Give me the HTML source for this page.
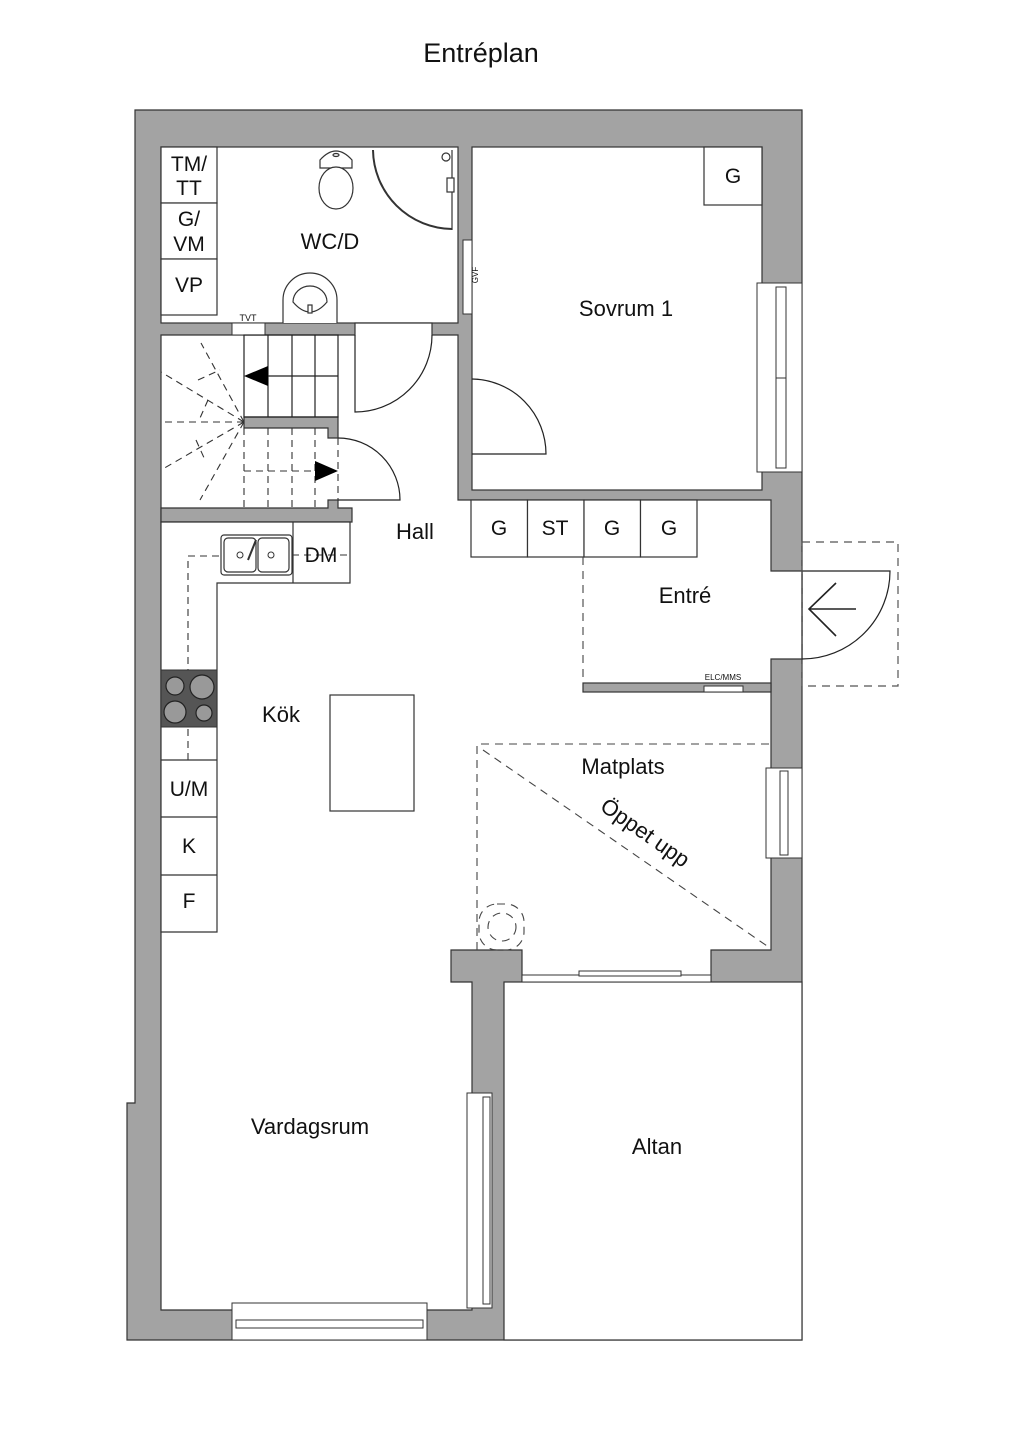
<!DOCTYPE html>
<html><head><meta charset="utf-8"><style>
html,body{margin:0;padding:0;background:#fff;}
svg{display:block;}
text{font-family:"Liberation Sans",sans-serif;fill:#111;}
</style></head><body>
<svg width="1024" height="1448" viewBox="0 0 1024 1448" xmlns="http://www.w3.org/2000/svg">
<text x="481" y="62" font-size="27" text-anchor="middle">Entréplan</text>

<!-- outer grey mass -->
<polygon points="135,110 802,110 802,1340 127,1340 127,1103 135,1103" fill="#a3a3a3" stroke="#333" stroke-width="1.2"/>

<g fill="#fff" stroke="#333" stroke-width="1.2">
<!-- WC -->
<rect x="161" y="147" width="297" height="176"/>
<!-- Sovrum -->
<rect x="472" y="147" width="290" height="343"/>
<!-- main area -->
<polygon points="161,335 355,335 355,323 432,323 432,335 458,335 458,500 771,500 771,571 802,571 802,659 771,659 771,950 711,950 711,982 522,982 522,950 451,950 451,982 472,982 472,1310 161,1310"/>
<!-- Altan -->
<rect x="504" y="982" width="298" height="358"/>
</g>
<!-- cover interior edges of main polygon on door/opening -->
<line x1="802" y1="571" x2="802" y2="659" stroke="#333" stroke-width="1.2"/>

<!-- interior walls -->
<g fill="#a3a3a3" stroke="#333" stroke-width="1.2">
<polygon points="161,508 328,508 328,500 338,500 338,508 352,508 352,522 161,522"/>
<polygon points="244,417 338,417 338,438 328,438 328,428 244,428"/>
<rect x="583" y="683" width="188" height="9"/>
</g>

<!-- windows -->
<g fill="#fff" stroke="#333" stroke-width="1">
<rect x="757" y="283" width="45" height="189"/>
<rect x="776" y="287" width="10" height="181"/>
<line x1="776" y1="378" x2="786" y2="378"/>
<rect x="766" y="768" width="36" height="90"/>
<rect x="780" y="771" width="8" height="84"/>
<rect x="467" y="1093" width="25" height="215"/>
<rect x="483" y="1097" width="7" height="207"/>
<rect x="232" y="1303" width="195" height="37"/>
<rect x="236" y="1320" width="187" height="8"/>
<rect x="522" y="975" width="189" height="7"/>
<rect x="579" y="971" width="102" height="5"/>
<rect x="463" y="240" width="9" height="74"/>
<rect x="232" y="323" width="33" height="12"/>
<rect x="704" y="686" width="39" height="6"/>
</g>
<text x="478" y="275" font-size="8" transform="rotate(-90 478 275)" text-anchor="middle">GVF</text>
<text x="248" y="321" font-size="9" text-anchor="middle">TVT</text>
<text x="723" y="680" font-size="8" text-anchor="middle">ELC/MMS</text>

<!-- WC cabinets -->
<g fill="#fff" stroke="#333" stroke-width="1.2">
<rect x="161" y="147" width="56" height="56"/>
<rect x="161" y="203" width="56" height="56"/>
<rect x="161" y="259" width="56" height="56"/>
<rect x="704" y="147" width="58" height="58"/>
</g>
<g font-size="21" text-anchor="middle">
<text x="189" y="171">TM/</text><text x="189" y="195">TT</text>
<text x="189" y="226">G/</text><text x="189" y="251">VM</text>
<text x="189" y="292">VP</text>
<text x="733" y="183">G</text>
</g>

<!-- toilet -->
<g fill="#fff" stroke="#333" stroke-width="1.2">
<path d="M320,160 Q336,142 352,160 L352,168 L320,168 Z"/>
<ellipse cx="336" cy="188" rx="17" ry="21"/>
<ellipse cx="336" cy="155" rx="3" ry="1.5"/>
<!-- shower -->
<path d="M373,150 A80,80 0 0 0 452,229" fill="none" stroke-width="2"/>
<line x1="452" y1="150" x2="452" y2="230"/>
<circle cx="446" cy="157" r="4"/>
<rect x="447" y="178" width="7" height="14"/>
<!-- sink -->
<path d="M283,323 L283,300 A27,27 0 0 1 337,300 L337,323"/>
<path d="M293,302 A17,16 0 0 1 327,302 Q310,322 293,302 Z"/>
<rect x="308" y="305" width="4" height="8"/>
</g>

<!-- doors -->
<g fill="none" stroke="#222" stroke-width="1.2">
<path d="M355,335 L355,412 A77,77 0 0 0 432,335"/>
<path d="M472,454 L546,454 A75,75 0 0 0 472,379"/>
<path d="M338,438 A62,62 0 0 1 400,500 L338,500"/>
<path d="M802,571 L890,571 A88,88 0 0 1 802,659"/>
<path d="M836,583 L809,609 L836,636 M809,609 L856,609" stroke-width="1.6"/>
</g>
<rect x="802" y="542" width="96" height="144" fill="none" stroke="#555" stroke-width="1.2" stroke-dasharray="8,6"/>

<!-- stairs -->
<g fill="none" stroke="#222" stroke-width="1.2">
<rect x="244" y="335" width="94" height="82"/>
<line x1="268" y1="335" x2="268" y2="417"/>
<line x1="292" y1="335" x2="292" y2="417"/>
<line x1="315" y1="335" x2="315" y2="417"/>
<line x1="268" y1="376" x2="338" y2="376"/>
</g>
<polygon points="244,376 268,366 268,386" fill="#000"/>
<g fill="none" stroke="#333" stroke-width="1.1" stroke-dasharray="7,5">
<line x1="244" y1="428" x2="244" y2="508"/>
<line x1="268" y1="428" x2="268" y2="508"/>
<line x1="292" y1="428" x2="292" y2="508"/>
<line x1="315" y1="428" x2="315" y2="508"/>
<line x1="244" y1="471" x2="315" y2="471"/>
<line x1="338" y1="438" x2="338" y2="500"/>
<line x1="244" y1="422" x2="201" y2="343"/>
<line x1="244" y1="422" x2="161" y2="372"/>
<line x1="244" y1="422" x2="161" y2="422"/>
<line x1="244" y1="422" x2="161" y2="470"/>
<line x1="244" y1="422" x2="200" y2="500"/>
<line x1="198" y1="380" x2="220" y2="370"/>
<line x1="208" y1="400" x2="200" y2="418"/>
<line x1="196" y1="440" x2="205" y2="460"/>
</g>
<polygon points="338,471 315,461 315,481" fill="#000"/>

<!-- kitchen -->
<g fill="#fff" stroke="#333" stroke-width="1.2">
<polygon points="161,522 350,522 350,583 217,583 217,932 161,932"/>
<line x1="293" y1="522" x2="293" y2="583"/>
<line x1="161" y1="760" x2="217" y2="760"/>
<line x1="161" y1="817" x2="217" y2="817"/>
<line x1="161" y1="875" x2="217" y2="875"/>
<rect x="221" y="535" width="71" height="40" rx="3"/>
<rect x="224" y="538" width="32" height="34" rx="4"/>
<rect x="258" y="538" width="31" height="34" rx="4"/>
<rect x="330" y="695" width="84" height="116"/>
</g>
<g fill="none" stroke="#333" stroke-width="1.1" stroke-dasharray="7,5">
<polyline points="188,760 188,556 221,556"/>
<line x1="292" y1="555" x2="350" y2="555"/>
</g>
<circle cx="240" cy="555" r="3" fill="none" stroke="#333"/>
<circle cx="271" cy="555" r="3" fill="none" stroke="#333"/>
<line x1="248" y1="560" x2="256" y2="540" stroke="#333" stroke-width="2"/>
<rect x="161" y="670" width="56" height="57" fill="#555" stroke="#333"/>
<g fill="#999" stroke="#222" stroke-width="1.2">
<circle cx="175" cy="686" r="9"/><circle cx="202" cy="687" r="12"/>
<circle cx="175" cy="712" r="11"/><circle cx="204" cy="713" r="8"/>
</g>
<g font-size="21" text-anchor="middle">
<text x="321" y="562">DM</text>
<text x="189" y="796">U/M</text>
<text x="189" y="853">K</text>
<text x="189" y="908">F</text>
</g>

<!-- wardrobes -->
<g fill="#fff" stroke="#333" stroke-width="1.2">
<rect x="471" y="500" width="56.5" height="57"/>
<rect x="527.5" y="500" width="56.5" height="57"/>
<rect x="584" y="500" width="56.5" height="57"/>
<rect x="640.5" y="500" width="56.5" height="57"/>
</g>
<g font-size="21" text-anchor="middle">
<text x="499" y="535">G</text><text x="555" y="535">ST</text>
<text x="612" y="535">G</text><text x="669" y="535">G</text>
</g>

<!-- dashed lines -->
<g fill="none" stroke="#444" stroke-width="1.1" stroke-dasharray="8,6">
<line x1="583" y1="557" x2="583" y2="683"/>
<polyline points="477,950 477,744 770,744"/>
<line x1="483" y1="750" x2="770" y2="948"/>
<rect x="479" y="904" width="45" height="46" rx="18"/>
<circle cx="502" cy="927" r="14"/>
</g>

<!-- labels -->
<g font-size="22" text-anchor="middle">
<text x="330" y="249">WC/D</text>
<text x="626" y="316">Sovrum 1</text>
<text x="415" y="539">Hall</text>
<text x="685" y="603">Entré</text>
<text x="281" y="722">Kök</text>
<text x="623" y="774">Matplats</text>
<text x="645" y="840" transform="rotate(35 645 833)">Öppet upp</text>
<text x="310" y="1134">Vardagsrum</text>
<text x="657" y="1154">Altan</text>
</g>
</svg>
</body></html>
